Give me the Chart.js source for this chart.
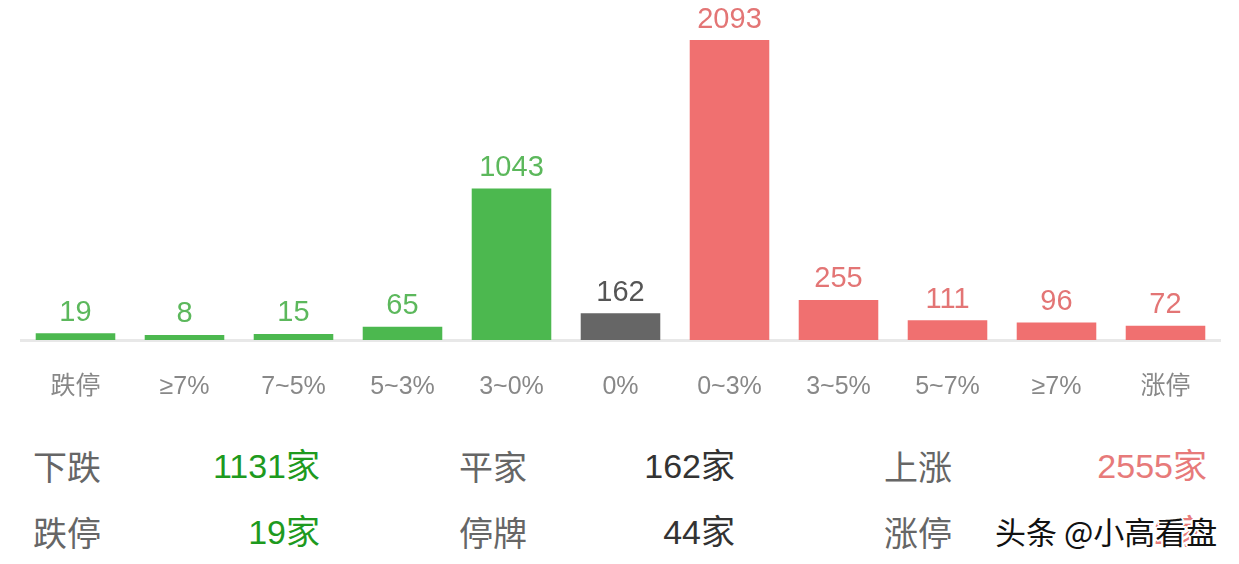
<!DOCTYPE html>
<html>
<head>
<meta charset="utf-8">
<script src="https://cdn.jsdelivr.net/npm/chart.js@4.4.1/dist/chart.umd.min.js"></script>
<style>
    html, body { margin: 0; padding: 0; background: #fff; }
    #wrap { position: relative; width: 1239px; height: 564px; overflow: hidden; font-family: "Liberation Sans", "Noto Sans CJK SC", sans-serif; }
    #chartBox { position: absolute; left: 0; top: 0; width: 1239px; height: 436px; }
    .t { position: absolute; font-size: 34px; line-height: 40px; white-space: nowrap; }
    .lbl { color: #666; font-family: "Noto Sans CJK SC", sans-serif; }
    .r { text-align: right; width: 200px; }
    .wm { position: absolute; left: 995px; top: 512px; font-size: 31px; line-height: 38px; color: #111;
          font-family: "Noto Sans CJK SC", sans-serif;
          text-shadow: -2px 0 #fff, 2px 0 #fff, 0 -2px #fff, 0 2px #fff, -1px -1px #fff, 1px 1px #fff, -1px 1px #fff, 1px -1px #fff; }
</style>
</head>
<body>
<div id="wrap">
    <div id="chartBox"><canvas id="myChart"></canvas></div>

    <div class="t lbl" style="left:33px; top:446px;">下跌</div>
    <div class="t r" style="left:120px; top:446px; color:#1e9a1e;">1131家</div>
    <div class="t lbl" style="left:459px; top:446px;">平家</div>
    <div class="t r" style="left:535px; top:446px; color:#333;">162家</div>
    <div class="t lbl" style="left:884px; top:446px;">上涨</div>
    <div class="t r" style="left:1007px; top:446px; color:#e77a7a;">2555家</div>

    <div class="t lbl" style="left:33px; top:512px;">跌停</div>
    <div class="t r" style="left:120px; top:512px; color:#1e9a1e;">19家</div>
    <div class="t lbl" style="left:459px; top:512px;">停牌</div>
    <div class="t r" style="left:535px; top:512px; color:#333;">44家</div>
    <div class="t lbl" style="left:884px; top:512px;">涨停</div>
    <div class="t r" style="left:1007px; top:512px; color:#e77a7a;">72家</div>

    <div class="wm">头条 @小高看盘</div>
</div>

<script>
// 涨跌分布
var categorias = ["跌停", "≥7%", "7~5%", "5~3%", "3~0%", "0%", "0~3%", "3~5%", "5~7%", "≥7%", "涨停"];
var valores = [19, 8, 15, 65, 1043, 162, 2093, 255, 111, 96, 72];
var coloresBarra = ["#4cb84f", "#4cb84f", "#4cb84f", "#4cb84f", "#4cb84f", "#666666",
    "#f07070", "#f07070", "#f07070", "#f07070", "#f07070"];
var coloresTexto = ["#5cb85c", "#5cb85c", "#5cb85c", "#5cb85c", "#5cb85c", "#555555",
    "#e37575", "#e37575", "#e37575", "#e37575", "#e37575"];
var ejeMin = -28;

// Etiquetas de valor encima de cada barra
var etiquetas = {
    id: "etiquetas",
    afterDatasetsDraw: function (chart) {
        var ctx = chart.ctx;
        var meta = chart.getDatasetMeta(0);
        ctx.save();
        ctx.font = "29px 'Liberation Sans', sans-serif";
        ctx.textAlign = "center";
        ctx.textBaseline = "bottom";
        meta.data.forEach(function (bar, i) {
            ctx.fillStyle = coloresTexto[i];
            ctx.fillText(String(valores[i]), bar.x, bar.y - 6);
        });
        ctx.restore();
    }
};

var ctx = document.getElementById("myChart").getContext("2d");
var chart = new Chart(ctx, {
    type: "bar",
    data: {
        labels: categorias,
        datasets: [
            {
                data: valores,
                base: ejeMin,
                backgroundColor: coloresBarra,
                borderWidth: 0,
                barPercentage: 0.73,
                categoryPercentage: 1.0,
            },
        ],
    },
    options: {
        responsive: true,
        maintainAspectRatio: false,
        animation: false,
        layout: { padding: { left: 21, right: 19, top: 40, bottom: 2 } },
        plugins: { legend: { display: false }, tooltip: { enabled: false } },
        scales: {
            x: {
                grid: { display: false, drawTicks: false },
                border: { display: true, color: "#e8e8e8", width: 3 },
                ticks: {
                    color: "#888",
                    padding: 32,
                    font: { size: 25, family: "'Liberation Sans', 'Noto Sans CJK SC', sans-serif" },
                },
            },
            y: {
                display: false,
                min: ejeMin,
                max: 2093,
            },
        },
    },
    plugins: [etiquetas],
});
</script>
</body>
</html>
